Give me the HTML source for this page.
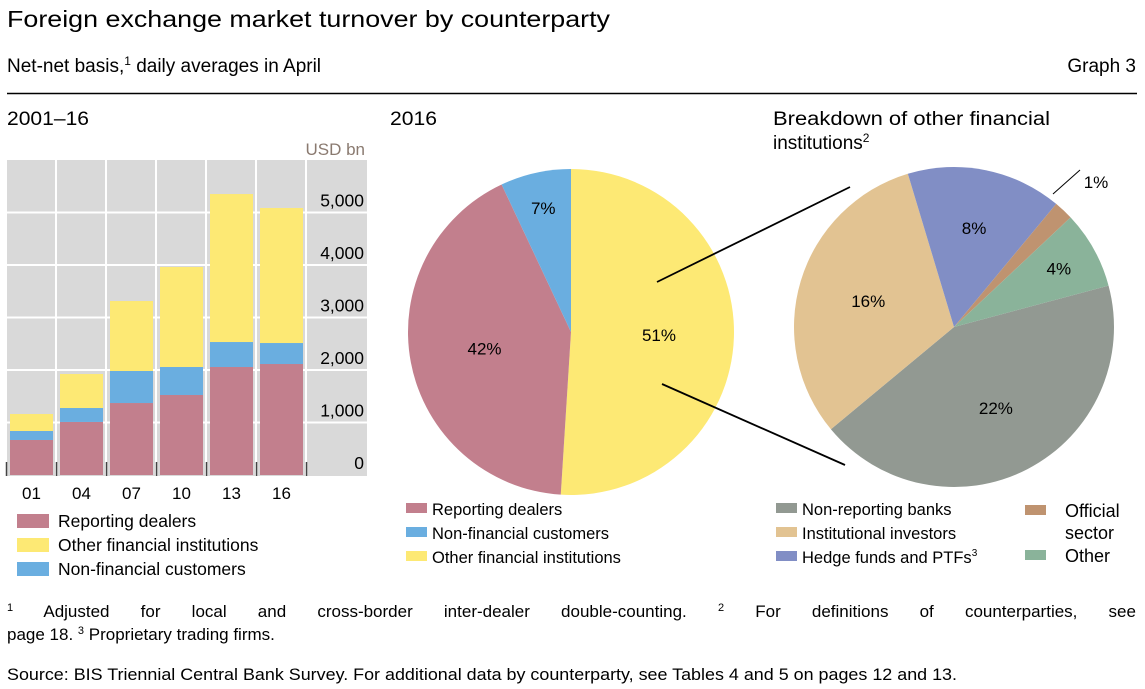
<!DOCTYPE html>
<html><head><meta charset="utf-8">
<style>
body{margin:0;background:#fff;}
svg{display:block;font-family:"Liberation Sans",Arial,sans-serif;}
</style></head>
<body>
<svg id="c" width="1145" height="689" viewBox="0 0 1145 689" xmlns="http://www.w3.org/2000/svg">
<text x="7" y="27" font-size="23" textLength="603" lengthAdjust="spacingAndGlyphs">Foreign exchange market turnover by counterparty</text>
<text x="7" y="72" font-size="19">Net-net basis,<tspan font-size="12" dy="-7">1</tspan><tspan dy="7"> daily averages in April</tspan></text>
<text x="1136" y="72" font-size="19" text-anchor="end">Graph 3</text>
<line x1="7" y1="93.5" x2="1137" y2="93.5" stroke="#000" stroke-width="1.5"/>
<text x="7" y="125" font-size="19" textLength="82" lengthAdjust="spacingAndGlyphs">2001–16</text>
<text x="390" y="125" font-size="19" textLength="47" lengthAdjust="spacingAndGlyphs">2016</text>
<text x="773" y="125" font-size="19" textLength="277" lengthAdjust="spacingAndGlyphs">Breakdown of other financial</text>
<text x="773" y="149" font-size="19">institutions<tspan font-size="12" dy="-7">2</tspan></text>
<text x="365" y="155" font-size="17" text-anchor="end" fill="#8a7a70">USD bn</text>
<rect x="7" y="160" width="360" height="316" fill="#d9d9d9"/>
<g id="grid"></g><g id="bars"></g><g id="axes"></g>
<g id="pies"></g>
<line x1="657" y1="282" x2="850" y2="187" stroke="#000" stroke-width="1.8"/>
<line x1="662" y1="384" x2="845" y2="465" stroke="#000" stroke-width="1.8"/>
<line x1="1053" y1="194" x2="1080" y2="170" stroke="#000" stroke-width="1"/>
<text x="1096" y="188" font-size="17" text-anchor="middle">1%</text>
<g id="legends" font-size="16"></g>
<text id="fn1" x="7" y="617" font-size="17"><tspan font-size="11" dy="-6">1</tspan><tspan dy="6"> Adjusted for local and cross-border inter-dealer double-counting. </tspan><tspan font-size="11" dy="-6">2</tspan><tspan dy="6"> For definitions of counterparties, see</tspan></text>
<text x="7" y="640" font-size="17">page 18.  <tspan font-size="11" dy="-6">3</tspan><tspan dy="6">  Proprietary trading firms.</tspan></text>
<text x="7" y="680" font-size="17" textLength="950" lengthAdjust="spacingAndGlyphs">Source: BIS Triennial Central Bank Survey. For additional data by counterparty, see Tables 4 and 5 on pages 12 and 13.</text>
</svg>
<script>
const years=["01","04","07","10","13","16"];
const reportingDealers=[667,1010,1371,1524,2057,2114];
const nonFinancial=[171,266,610,533,476,400];
const otherFinancial=[324,648,1333,1905,2819,2572];
const yTicks=[0,1000,2000,3000,4000,5000];
const pie1Labels=["Other financial institutions","Reporting dealers","Non-financial customers"];
const pie1Values=[51,42,7];
const pie2Labels=["Non-reporting banks","Institutional investors","Hedge funds and PTFs","Official sector","Other"];
const pie2Values=[22,16,8,1,4];

const NS="http://www.w3.org/2000/svg";
function mk(t,a,p){const e=document.createElementNS(NS,t);for(const k in a)e.setAttribute(k,a[k]);p.appendChild(e);return e;}
const y0=475,pxPer=52.5/1000;
const yS=v=>y0-v*pxPer;
const xS=i=>10+i*50;
const bw=43;
const grid=document.getElementById('grid'),bars=document.getElementById('bars'),axes=document.getElementById('axes');
yTicks.forEach(t=>{
  if(t>0){const l=mk('line',{x1:7,x2:367,y1:yS(t),y2:yS(t),stroke:'#fff','stroke-width':2},grid);
  
  }
  const tx=mk('text',{x:364,y:yS(t)-6,'font-size':17.5,'text-anchor':'end'},axes);tx.textContent=t.toLocaleString('en-US');
  
  
});
for(let i=1;i<=6;i++){const l=mk('line',{x1:6+i*50,x2:6+i*50,y1:160,y2:476,stroke:'#fff','stroke-width':2},grid);
  
  
  const tk=mk('line',{x1:6+(i-1)*50+0.5,x2:6+(i-1)*50+0.5,y1:462,y2:476,stroke:'#444','stroke-width':1.5},axes);
  
  
}
{const tk=mk('line',{x1:306.5,x2:306.5,y1:462,y2:476,stroke:'#444','stroke-width':1.5},axes);

}
const series=[[reportingDealers,'#c27f8d','reporting-dealers'],[nonFinancial,'#6aaee0','non-financial-customers'],[otherFinancial,'#fde974','other-financial-institutions']];
years.forEach((yr,i)=>{
  let base=0;
  series.forEach(([arr,col,nm])=>{
    const v=arr[i];
    const r=mk('rect',{x:xS(i),y:yS(base+v),width:bw,height:yS(base)-yS(base+v),fill:col},bars);
    
    
    base+=v;
  });
  const t=mk('text',{x:xS(i)+bw/2,y:499,'font-size':17,'text-anchor':'middle'},axes);t.textContent=yr;
  
  
});
const pies=document.getElementById('pies');
function pie(cx,cy,r,vals,cols,names,startDeg,labelR,skip){
  const tot=vals.reduce((a,b)=>a+b,0);let a=startDeg;
  vals.forEach((v,i)=>{
    const s=a,e=a+v/tot*360;a=e;
    const rad=d=>(d-90)*Math.PI/180;
    const x1=cx+r*Math.cos(rad(s)),y1=cy+r*Math.sin(rad(s)),x2=cx+r*Math.cos(rad(e)),y2=cy+r*Math.sin(rad(e));
    const p=mk('path',{d:`M${cx},${cy}L${x1},${y1}A${r},${r} 0 ${e-s>180?1:0} 1 ${x2},${y2}Z`,fill:cols[i]},pies);
    
    
    if(skip[i])return;
    const m=rad((s+e)/2),lr=r*labelR[i];
    const t=mk('text',{x:cx+lr*Math.cos(m),y:cy+lr*Math.sin(m)+6,'font-size':17,'text-anchor':'middle'},pies);
    t.textContent=v+'%';
    
    
  });
}
pie(571,332,163,pie1Values,['#fde974','#c27f8d','#6aaee0'],['other-financial','reporting-dealers','non-financial'],0,[0.54,0.54,0.78],[0,0,0]);
pie(954,327,160,pie2Values,['#929992','#e2c392','#818ec5','#bf9370','#8ab39a'],['non-reporting-banks','institutional-investors','hedge-funds','official-sector','other'],75,[0.57,0.56,0.63,0.6,0.75],[0,0,0,1,0]);
const lg=document.getElementById('legends');
function leg(x,y,col,label,nm){
  const r=mk('rect',{x:x,y:y-13,width:32,height:14,fill:col},lg);
  
  
  const t=mk('text',{x:x+41,y:y,'font-size':17.5},lg);t.textContent=label;
  
  
  return t;
}
leg(17,527,'#c27f8d','Reporting dealers','bar-reporting-dealers');
leg(17,551,'#fde974','Other financial institutions','bar-other-financial');
leg(17,575,'#6aaee0','Non-financial customers','bar-non-financial');
function leg2(x,y,col,label,nm){
  const r=mk('rect',{x:x,y:y-12,width:21,height:10,fill:col},lg);
  
  
  const t=mk('text',{x:x+26,y:y,'font-size':16.5},lg);t.textContent=label;
  
  
  return t;
}
leg2(406,515,'#c27f8d','Reporting dealers','reporting-dealers');
leg2(406,539,'#6aaee0','Non-financial customers','non-financial');
leg2(406,563,'#fde974','Other financial institutions','other-financial');
leg2(776,515,'#929992','Non-reporting banks','non-reporting-banks');
leg2(776,539,'#e2c392','Institutional investors','institutional-investors');
const h=leg2(776,563,'#818ec5','Hedge funds and PTFs','hedge-funds');
const sup=mk('tspan',{'font-size':10,dy:-7},h);sup.textContent='3';
const o=leg2(1025,517,'#bf9370','Official','official-sector');
o.setAttribute('font-size','18');
o.setAttribute('x','1065');
const o2=mk('text',{x:1065,y:539,'font-size':18},lg);o2.textContent='sector';


const ot=leg2(1025,562,'#8ab39a','Other','other');ot.setAttribute('font-size','18');ot.setAttribute('x','1065');
// justify footnote 1 via word spacing
const fn=document.getElementById('fn1');
const len=fn.getComputedTextLength();
const gaps=(fn.textContent.match(/ /g)||[]).length;
if(gaps>0&&len<1129){fn.setAttribute('word-spacing',((1129-len)/gaps).toFixed(2));}
</script>
</body></html>
